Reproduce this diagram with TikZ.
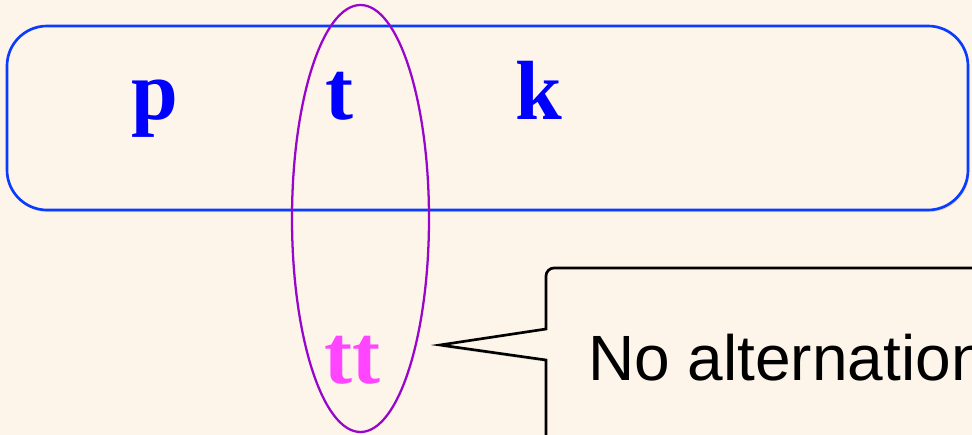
\documentclass[tikz,border=0pt]{standalone}
\usepackage{fontspec}
\setmainfont{Liberation Serif}
\newfontfamily\calloutfont{Liberation Sans}
\usetikzlibrary{shapes.geometric,shadows}
\definecolor{bg}{HTML}{FDF5E9}
\definecolor{boxblue}{HTML}{0A3CFF}
\definecolor{letterblue}{HTML}{0000FF}
\definecolor{ellpurple}{HTML}{9A05CC}
\definecolor{ttmag}{HTML}{FF45FF}
\tikzset{
  letter/.style={font=\fontsize{63}{63}\selectfont\bfseries, text=letterblue, inner sep=0pt, anchor=base},
  frame/.style={draw=boxblue, line width=2pt, rounded corners=30pt, fill=bg,
    drop shadow={shadow xshift=1pt, shadow yshift=-1.5pt, opacity=0.25}},
}
\begin{document}
\begin{tikzpicture}[x=0.75pt,y=-0.75pt]
\fill[bg] (0,0) rectangle (972,435);
\useasboundingbox (0,0) rectangle (972,435);
\clip (0,0) rectangle (972,435);
% blue rounded frame
\node[frame, minimum width=961*0.75pt, minimum height=184*0.75pt, inner sep=0pt] (frame) at (487.5,118) {};
% letters
\node[letter] (p) at (155,120) {p};
\node[letter] (t) at (339,120) {t};
\node[letter] (k) at (539,120) {k};
\node[letter, text=ttmag] (tt) at (352,383) {tt};
% ellipse
\node[ellipse, draw=ellpurple, line width=1.7pt, minimum width=137*0.75pt, minimum height=427*0.75pt, inner sep=0pt] (ell) at (360.5,218.5) {};
% callout
\coordinate (tip) at (440,345);
\draw[black, line width=2pt, fill=bg,
  drop shadow={shadow xshift=1pt, shadow yshift=-1.5pt, opacity=0.25}]
  (546,329) -- (tip) -- (546,360) -- (546,520) -- (1100,520) -- (1100,268)
  [rounded corners=6pt] -- (546,268) [sharp corners] -- cycle;
\node[font=\calloutfont\fontsize{48}{48}\selectfont, anchor=base west, inner sep=0pt] (note) at (588,380) {No alternation};
\end{tikzpicture}
\end{document}
